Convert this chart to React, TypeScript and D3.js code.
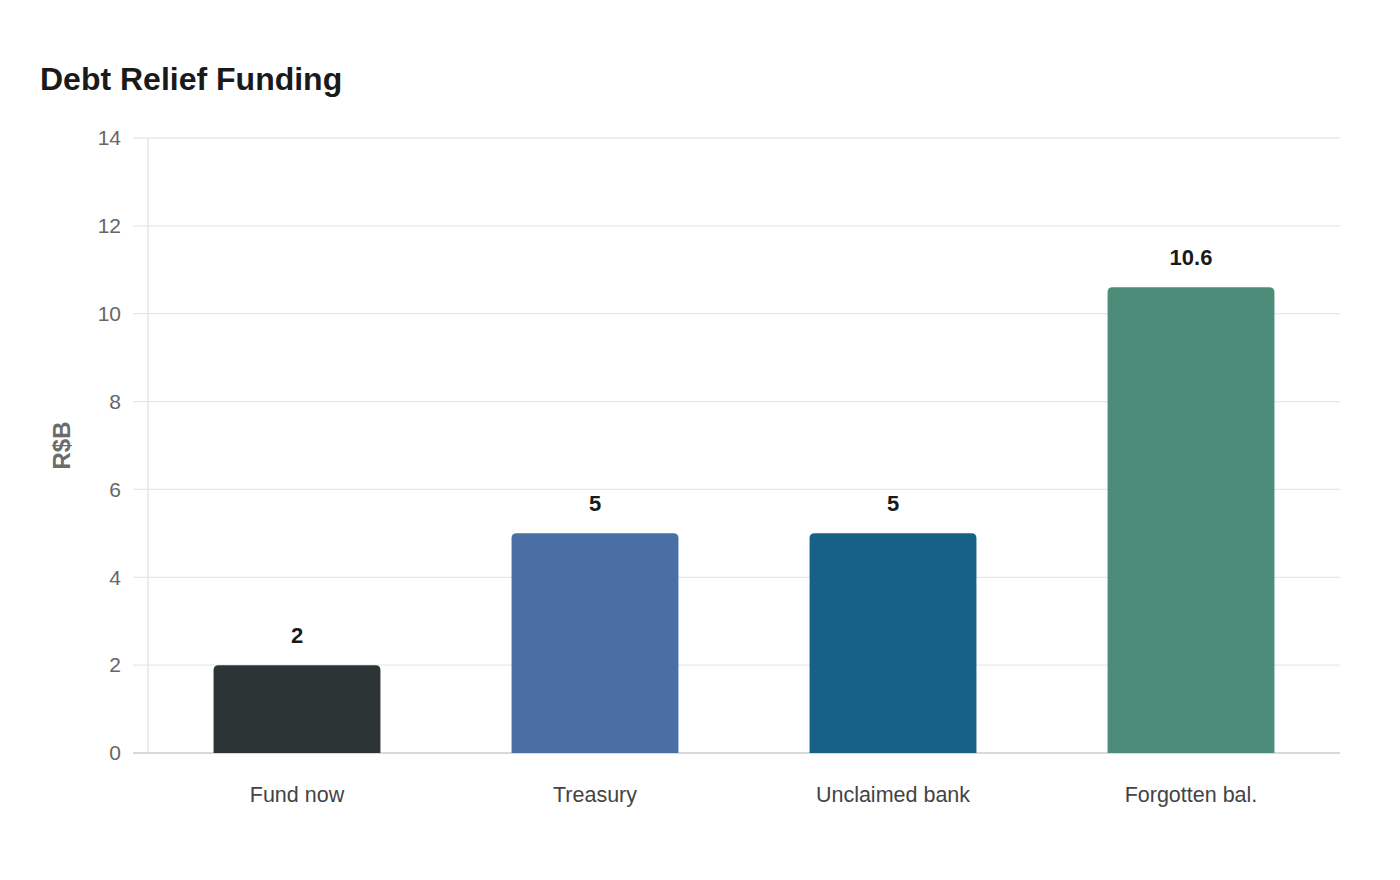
import React from "react";
import * as d3 from "d3";

const categories = ["Fund now", "Treasury", "Unclaimed bank", "Forgotten bal."];
const values = [2, 5, 5, 10.6];
const colors = ["#2d3436", "#4a6fa5", "#176186", "#4e8c7a"];
const yTicks = [0, 2, 4, 6, 8, 10, 12, 14];
const title = "Debt Relief Funding";
const yLabel = "R$B";

const W = 1400;
const H = 880;
const m = { left: 148, right: 60, top: 138, bottom: 127 };

function topRoundedRect(x: number, y: number, w: number, h: number, r: number) {
  const rr = Math.min(r, h, w / 2);
  return `M${x},${y + h}V${y + rr}Q${x},${y} ${x + rr},${y}H${x + w - rr}Q${x + w},${y} ${x + w},${y + rr}V${y + h}Z`;
}

export default function App() {
  const x = d3.scaleBand<string>().domain(categories).range([m.left, W - m.right]).padding(0);
  const y = d3.scaleLinear().domain([0, 14]).range([H - m.bottom, m.top]);
  const barW = x.bandwidth() * 0.56;
  const font = "'Liberation Sans', Arial, sans-serif";
  return (
    <svg width={W} height={H} style={{ position: "absolute", left: 0, top: 0, background: "#fff" }} fontFamily={font}>
      <text x={40} y={90} fontSize={32} fontWeight="bold" fill="#1a1a1a">{title}</text>
      {yTicks.map((t) => (
        <g key={t}>
          <line x1={m.left - 15} x2={W - m.right} y1={y(t)} y2={y(t)} stroke={t === 0 ? "#cccccc" : "#e8e8e8"} strokeWidth={t === 0 ? 1.5 : 1.3} />
          <text x={121} y={y(t)} dy="0.35em" textAnchor="end" fontSize={21} fill="#666">{t}</text>
        </g>
      ))}
      <line x1={m.left} x2={m.left} y1={m.top} y2={y(0)} stroke="#e0e0e0" strokeWidth={1.2} />
      <text transform={`translate(70,${(m.top + y(0)) / 2}) rotate(-90)`} textAnchor="middle" fontSize={24} fontWeight="bold" fill="#6b6b6b">{yLabel}</text>
      {categories.map((c, i) => {
        const cx = (x(c) as number) + x.bandwidth() / 2;
        const top = y(values[i]);
        return (
          <g key={c}>
            <path d={topRoundedRect(cx - barW / 2, top, barW, y(0) - top, 5)} fill={colors[i]} />
            <text x={cx} y={top - 22} textAnchor="middle" fontSize={22} fontWeight="bold" fill="#1a1a1a">{values[i]}</text>
            <text x={cx} y={802} textAnchor="middle" fontSize={21.5} fill="#444">{c}</text>
          </g>
        );
      })}
    </svg>
  );
}
